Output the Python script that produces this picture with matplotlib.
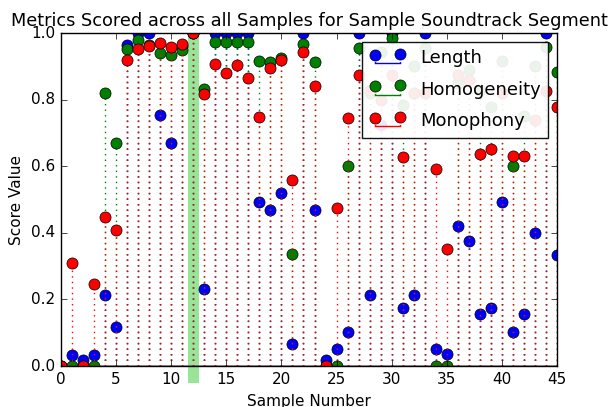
import numpy as np
import matplotlib
matplotlib.use('Agg')
import matplotlib.pyplot as plt

plt.style.use('classic')

samples = np.arange(46)

length = [0, 0.033, 0.018, 0.033, 0.213, 0.116, 0.964, 1.0, 1.0, 0.754,
          0.669, 0.96, 1.0, 0.231, 1.0, 1.0, 1.0, 1.0, 0.493, 0.468,
          0.519, 0.066, 1.0, 0.468, 0.018, 0.05, 0.101, 1.0, 0.213, 0.724,
          1.0, 0.175, 0.213, 1.0, 0.05, 0.035, 0.421, 0.376, 0.155, 0.175,
          0.493, 0.101, 0.155, 0.398, 1.0, 0.333]
homogeneity = [0, 0, 0, 0, 0.82, 0.669, 0.951, 0.979, 0.965, 0.941,
               0.934, 0.949, 1.0, 0.831, 0.974, 0.972, 0.974, 0.974, 0.916, 0.914,
               0.926, 0.335, 0.967, 0.914, 0, 0, 0.601, 0.954, 0.82, 0.944,
               0.984, 0.784, 0.9, 0.956, 0, 0, 0.85, 0.89, 0.83, 0.777,
               0.917, 0.601, 0.751, 0.901, 0.957, 0.884]
monophony = [0, 0.31, 0, 0.245, 0.446, 0.408, 0.919, 0.951, 0.961, 0.971,
             0.957, 0.967, 1.0, 0.816, 0.906, 0.881, 0.904, 0.866, 0.749, 0.896,
             0.919, 0.559, 0.944, 0.842, 0, 0.476, 0.746, 0.874, 0.83, 0.80,
             0.874, 0.627, 0.819, 0.819, 0.593, 0.35, 0.874, 0.859, 0.636, 0.652,
             0.82, 0.631, 0.631, 0.739, 0.827, 0.779]

series = [(length, 'b', 'Length'),
          (homogeneity, 'g', 'Homogeneity'),
          (monophony, 'r', 'Monophony')]

fig = plt.figure(figsize=(6.09, 4.07), dpi=100)
ax = fig.add_axes([0.1002, 0.1007, 0.8144, 0.8182])

for vals, col, name in series:
    m, s, b = ax.stem(samples, vals, linefmt=col + ':', markerfmt=col + 'o',
                      basefmt=col + '-', label=name)
    plt.setp(m, markersize=8, markeredgecolor='k', markeredgewidth=0.5)

# highlighted sample
ax.axvspan(11.5, 12.5, ymin=-0.05, ymax=1, color='limegreen', alpha=0.5,
           clip_on=False, lw=0)

ax.set_xlim(0, 45)
ax.set_ylim(0, 1)
ax.tick_params(labelsize=11)
ax.set_title('Metrics Scored across all Samples for Sample Soundtrack Segment',
             fontsize=12.8)
ax.set_xlabel('Sample Number', fontsize=11)
ax.set_ylabel('Score Value', fontsize=11)
ax.legend(loc='upper right', framealpha=0.92, numpoints=2, fontsize=13,
          labelspacing=0.75)

fig.savefig('out.png', dpi=100)
